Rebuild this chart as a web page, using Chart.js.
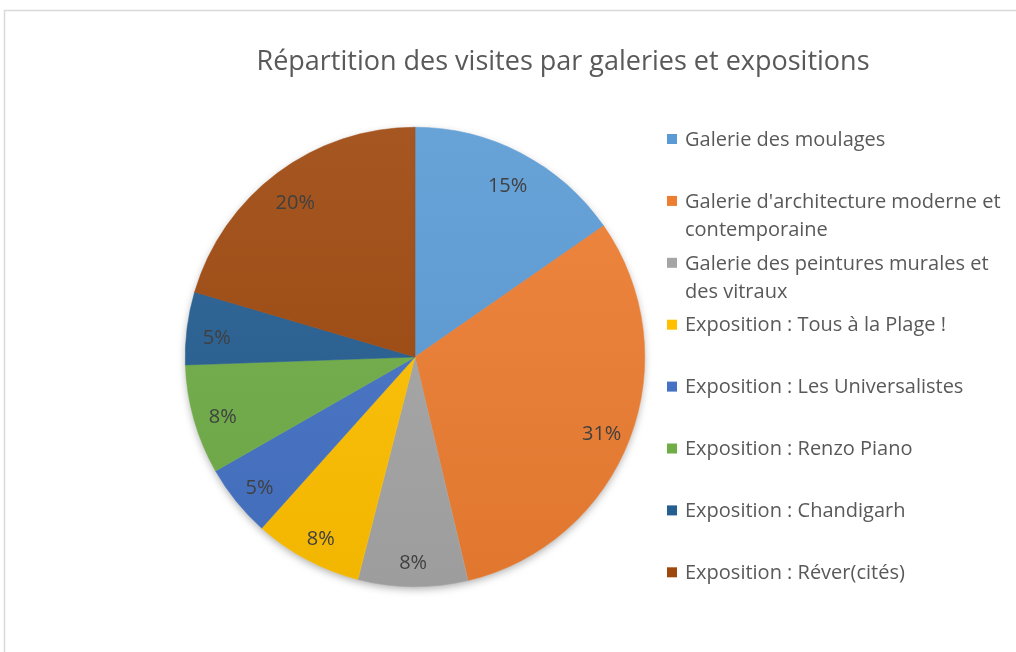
<!DOCTYPE html>
<html>
<head>
<meta charset="utf-8">
<script src="https://cdn.jsdelivr.net/npm/chart.js@4"></script>
<style>
  html, body { margin: 0; padding: 0; background: #fff; }
  #wrap { width: 1016px; height: 652px; }
</style>
</head>
<body>
<div id="wrap"><canvas id="pie-chart" width="1016" height="652"></canvas></div>
<script>
const pieCanvas = document.getElementById("pie-chart");

// ================== data ======================
const chartTitle = "Répartition des visites par galeries et expositions";
const categories = [
  "Galerie des moulages",
  "Galerie d'architecture moderne et contemporaine",
  "Galerie des peintures murales et des vitraux",
  "Exposition : Tous à la Plage !",
  "Exposition : Les Universalistes",
  "Exposition : Renzo Piano",
  "Exposition : Chandigarh",
  "Exposition : Réver(cités)",
];
const visitShares = [15.3, 30.9, 7.7, 7.6, 5.1, 7.7, 5.1, 20.4];
const sliceColors = [
  "#5B9BD5",
  "#ED7D31",
  "#A5A5A5",
  "#FFC000",
  "#4472C4",
  "#70AD47",
  "#255E91",
  "#9E480E",
];

const fontFamily = "'Open Sans', 'Noto Sans', sans-serif";

// mix a hex colour toward white (amt > 0) or black (amt < 0)
function shade(hex, amt) {
  const n = parseInt(hex.slice(1), 16);
  let r = (n >> 16) & 255, g = (n >> 8) & 255, b = n & 255;
  const t = amt < 0 ? 0 : 255;
  const p = Math.abs(amt);
  r = Math.round(r + (t - r) * p);
  g = Math.round(g + (t - g) * p);
  b = Math.round(b + (t - b) * p);
  return `rgb(${r},${g},${b})`;
}

function sliceFill(context) {
  const chart = context.chart;
  const area = chart.chartArea;
  const base = sliceColors[context.dataIndex];
  if (!area) return base;
  const grad = chart.ctx.createLinearGradient(0, area.top, 0, area.bottom);
  grad.addColorStop(0, shade(base, 0.08));
  grad.addColorStop(1, shade(base, -0.05));
  return grad;
}

// ================== plugins ======================
const frameAndTitle = {
  id: "frameAndTitle",
  beforeDraw(chart) {
    const ctx = chart.ctx;
    ctx.save();
    ctx.fillStyle = "#fff";
    ctx.fillRect(0, 0, chart.width, chart.height);
    ctx.strokeStyle = "#d9d9d9";
    ctx.lineWidth = 1.5;
    ctx.strokeRect(4.5, 10.5, 1200, 1000);
    ctx.fillStyle = "#595959";
    ctx.font = `27px ${fontFamily}`;
    ctx.textAlign = "center";
    ctx.textBaseline = "middle";
    ctx.fillText(chartTitle, 563, 62);
    ctx.restore();
  },
};

const pieShadow = {
  id: "pieShadow",
  beforeDatasetsDraw(chart) {
    const arc = chart.getDatasetMeta(0).data[0];
    if (!arc) return;
    const { x, y, outerRadius } = arc.getProps(["x", "y", "outerRadius"], true);
    const ctx = chart.ctx;
    ctx.save();
    ctx.shadowColor = "rgba(0,0,0,0.35)";
    ctx.shadowBlur = 8;
    ctx.shadowOffsetY = 3;
    ctx.fillStyle = "#ddd";
    ctx.beginPath();
    ctx.arc(x, y, outerRadius - 1, 0, Math.PI * 2);
    ctx.fill();
    ctx.restore();
  },
};

const pieLabels = {
  id: "pieLabels",
  afterDatasetsDraw(chart) {
    const ctx = chart.ctx;
    const total = visitShares.reduce((a, b) => a + b, 0);
    ctx.save();
    ctx.fillStyle = "#404040";
    ctx.font = `20px ${fontFamily}`;
    ctx.textAlign = "center";
    ctx.textBaseline = "middle";
    chart.getDatasetMeta(0).data.forEach((arc, i) => {
      const p = arc.getProps(["x", "y", "startAngle", "endAngle", "outerRadius"], true);
      const mid = (p.startAngle + p.endAngle) / 2;
      const r = p.outerRadius * 0.87;
      const pct = Math.round((visitShares[i] / total) * 100) + "%";
      ctx.fillText(pct, p.x + Math.cos(mid) * r, p.y + Math.sin(mid) * r + 6);
    });
    ctx.restore();
  },
};

// legend drawn by hand so long names wrap like the original
const sideLegend = {
  id: "sideLegend",
  afterDraw(chart) {
    const ctx = chart.ctx;
    const left = 685;
    const maxWidth = chart.width - left - 2;
    ctx.save();
    ctx.font = `20px ${fontFamily}`;
    ctx.textBaseline = "middle";
    categories.forEach((name, i) => {
      const y = 139 + i * 61.9;
      // word wrap
      const words = name.split(" ");
      const lines = [];
      let line = "";
      words.forEach((w) => {
        const test = line ? line + " " + w : w;
        if (ctx.measureText(test).width > maxWidth && line) {
          lines.push(line);
          line = w;
        } else {
          line = test;
        }
      });
      lines.push(line);
      ctx.fillStyle = sliceColors[i];
      ctx.fillRect(667, y - 5, 10, 10);
      ctx.fillStyle = "#595959";
      lines.forEach((l, k) => ctx.fillText(l, left, y + 1 + k * 28));
    });
    ctx.restore();
  },
};

// ================== chart ======================
const pieChart = new Chart(pieCanvas, {
  type: "pie",
  data: {
    labels: categories,
    datasets: [
      {
        data: visitShares,
        backgroundColor: sliceFill,
        borderColor: sliceColors,
        borderWidth: 0.5,
      },
    ],
  },
  options: {
    responsive: false,
    animation: false,
    rotation: 0,
    layout: {
      padding: { top: 127, bottom: 65, left: 185, right: 371 },
    },
    plugins: {
      legend: { display: false },
      title: { display: false },
      tooltip: { enabled: false },
    },
  },
  plugins: [frameAndTitle, pieShadow, pieLabels, sideLegend],
});
</script>
</body>
</html>
